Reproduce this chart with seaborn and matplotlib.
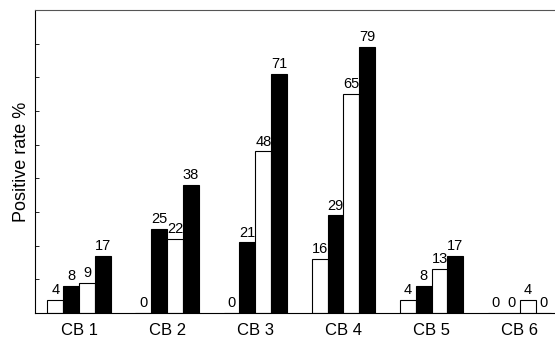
import matplotlib
matplotlib.use("Agg")
import matplotlib.pyplot as plt
import seaborn as sns
import pandas as pd

categories = ["CB 1", "CB 2", "CB 3", "CB 4", "CB 5", "CB 6"]
series_names = ["A", "B", "C", "D"]
series_values = [
    [4, 0, 0, 16, 4, 0],     # white
    [8, 25, 21, 29, 8, 0],   # black
    [9, 22, 48, 65, 13, 4],  # white
    [17, 38, 71, 79, 17, 0], # black
]
colors = ["white", "black", "white", "black"]

rows = []
for name, vals in zip(series_names, series_values):
    for c, v in zip(categories, vals):
        rows.append({"cat": c, "series": name, "value": v})
df = pd.DataFrame(rows)

sns.set_style("white")
plt.rcParams["font.family"] = ["Liberation Sans", "DejaVu Sans"]
plt.rcParams["text.color"] = "black"
plt.rcParams["axes.labelcolor"] = "black"
plt.rcParams["xtick.color"] = "black"
plt.rcParams["ytick.color"] = "black"

fig = plt.figure(figsize=(5.55, 3.45), dpi=100)
ax = fig.add_axes([35/555, 32/345, 520/555, 303/345])

sns.barplot(data=df, x="cat", y="value", hue="series", order=categories,
            hue_order=series_names, palette=colors, edgecolor="black",
            linewidth=0.8, width=0.72, legend=False, ax=ax, saturation=1)

for cont in ax.containers:
    ax.bar_label(cont, fmt="%d", padding=2, fontsize=10.5, color="black")

ax.set_ylim(0, 90)
ax.set_xlim(-0.5, 5.4)
ax.set_yticks(range(0, 91, 10))
ax.set_yticklabels([])
ax.tick_params(axis="y", direction="in", length=3, width=0.6, left=True)
ax.tick_params(axis="x", length=0, labelsize=12, pad=7, labelcolor="black")
ax.set_xlabel("")
ax.set_ylabel("Positive rate %", fontsize=13, labelpad=0, color="black")
for s in ["left", "bottom", "top"]:
    ax.spines[s].set_color("black")
    ax.spines[s].set_linewidth(0.8)
ax.spines["top"].set_color("#555555")
ax.spines["right"].set_visible(False)

fig.savefig("out.png", dpi=100)
